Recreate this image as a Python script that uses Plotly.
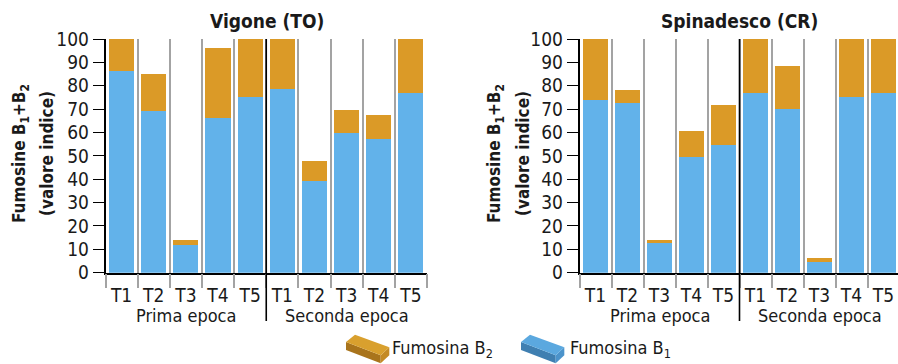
import plotly.graph_objects as go

W, H = 898, 364

# ---------------- data ----------------
categories = ["T1", "T2", "T3", "T4", "T5", "T1", "T2", "T3", "T4", "T5"]
groups = ["Prima epoca", "Seconda epoca"]

vigone_b1 = [86.3, 69.3, 11.8, 66.4, 75.2, 78.4, 39.4, 59.6, 57.3, 77.0]
vigone_b2 = [13.7, 15.8, 2.4, 29.8, 24.8, 21.6, 8.5, 10.1, 10.3, 23.0]

spinadesco_b1 = [74.1, 72.7, 12.7, 49.6, 54.8, 77.0, 70.1, 4.4, 75.0, 76.7]
spinadesco_b2 = [25.9, 5.5, 1.5, 11.1, 17.0, 23.0, 18.4, 1.7, 25.0, 23.3]

titles = ["Vigone (TO)", "Spinadesco (CR)"]
y_title_lines = ["Fumosine B<sub>1</sub>+B<sub>2</sub>", "(valore indice)"]
legend_labels = ["Fumosina B<sub>2</sub>", "Fumosina B<sub>1</sub>"]
y_ticks = [0, 10, 20, 30, 40, 50, 60, 70, 80, 90, 100]

# ---------------- style ----------------
FONT = "DejaVu Sans Condensed, Liberation Sans Narrow, Arial Narrow, sans-serif"
BLUE = "#62B2EA"
ORANGE = "#DB9A27"
TXT = "#1a1a1a"
GRID = "#a3a3a3"

def px(x):
    return x / W

def py(y):
    return 1 - y / H

YDOM = [py(272.7), py(39)]
XDOMS = [[px(105.5), px(427)], [px(579.5), px(898)]]
XRANGES = [[-0.5, 9.5], [-0.5, -0.5 + (898 - 579.5) / 32.0]]

fig = go.Figure()
xs = list(range(len(categories)))

panels = [(vigone_b1, vigone_b2), (spinadesco_b1, spinadesco_b2)]
for i, (b1, b2) in enumerate(panels):
    xa = "x" if i == 0 else "x2"
    ya = "y" if i == 0 else "y2"
    fig.add_trace(go.Bar(x=xs, y=b1, marker=dict(color=BLUE, line=dict(width=0)),
                         name="Fumosina B1", xaxis=xa, yaxis=ya, showlegend=False))
    fig.add_trace(go.Bar(x=xs, y=b2, marker=dict(color=ORANGE, line=dict(width=0)),
                         name="Fumosina B2", xaxis=xa, yaxis=ya, showlegend=False))

axis_common_x = dict(
    tickmode="array", tickvals=xs, ticktext=categories,
    ticks="", showgrid=False, zeroline=False, automargin=False,
    showline=True, linecolor="black", linewidth=1.5,
    tickfont=dict(family=FONT, size=19, color=TXT),
    ticklabelstandoff=5,
    minor=dict(tickmode="array", tickvals=[k - 0.5 for k in range(11)],
               ticks="outside", ticklen=14, tickcolor=GRID, tickwidth=1.5,
               showgrid=True, gridcolor=GRID, gridwidth=1.5),
)
axis_common_y = dict(
    range=[0, 100], tickmode="array", tickvals=y_ticks, automargin=False,
    ticks="outside", ticklen=11, tickcolor="black", tickwidth=1.2,
    showline=True, linecolor="black", linewidth=1.5,
    showgrid=False, zeroline=False,
    tickfont=dict(family=FONT, size=19, color=TXT),
)

fig.update_layout(
    width=W, height=H,
    margin=dict(l=0, r=0, t=0, b=0),
    paper_bgcolor="white", plot_bgcolor="white",
    barmode="stack", bargap=0.22,
    showlegend=False,
    xaxis=dict(domain=XDOMS[0], range=XRANGES[0], anchor="y", **axis_common_x),
    yaxis=dict(domain=YDOM, anchor="x", **axis_common_y),
    xaxis2=dict(domain=XDOMS[1], range=XRANGES[1], anchor="y2", **axis_common_x),
    yaxis2=dict(domain=YDOM, anchor="x2", **axis_common_y),
)

annotations = []
shapes = []
title_x = [266.5, 739]
ytitle_x = [(20, 47), (495, 523)]
for i in range(2):
    xr = "x" if i == 0 else "x2"
    annotations.append(dict(text="<b>%s</b>" % titles[i], x=px(title_x[i]), y=py(21),
                            xref="paper", yref="paper", showarrow=False,
                            xanchor="center", yanchor="middle",
                            font=dict(family=FONT, size=19, color=TXT)))
    for line, lx in zip(y_title_lines, ytitle_x[i]):
        annotations.append(dict(text="<b>%s</b>" % line, x=px(lx), y=py(154),
                                xref="paper", yref="paper", showarrow=False, textangle=-90,
                                xanchor="center", yanchor="middle", align="center",
                                font=dict(family=FONT, size=17, color=TXT)))
    for g, gname in enumerate(groups):
        annotations.append(dict(text=gname, x=2 + 5 * g, y=py(315), xref=xr, yref="paper",
                                showarrow=False, xanchor="center", yanchor="middle",
                                font=dict(family=FONT, size=18, color=TXT)))
    # black divider between the two epochs
    shapes.append(dict(type="line", xref=xr, yref="paper", x0=4.5, x1=4.5,
                       y0=py(321), y1=YDOM[1], line=dict(color="black", width=1.6)))

# legend: 3D box icons + labels
def box(x0, top, front, end):
    A = (x0 + 6, 342); B = (x0 + 15, 334.7); C = (x0 + 49.3, 347.3); D = (x0 + 40.7, 355.3)
    d = 8
    def path(pts):
        return "M " + " L ".join("%f,%f" % (px(a), py(b)) for a, b in pts) + " Z"
    out = []
    out.append(dict(type="path", xref="paper", yref="paper",
                    path=path([A, D, (D[0], D[1] + d), (A[0], A[1] + d)]),
                    fillcolor=front, line=dict(width=0)))
    out.append(dict(type="path", xref="paper", yref="paper",
                    path=path([D, C, (C[0], C[1] + d), (D[0], D[1] + d)]),
                    fillcolor=end, line=dict(width=0)))
    out.append(dict(type="path", xref="paper", yref="paper",
                    path=path([A, B, C, D]), fillcolor=top, line=dict(width=0)))
    return out

shapes += box(340, "#D9A02E", "#A9741C", "#C48A24")
shapes += box(515, "#5BA8DF", "#3F7FB1", "#4B93CB")
annotations.append(dict(text=legend_labels[0], x=px(390), y=py(349), xref="paper", yref="paper",
                        showarrow=False, xanchor="left", yanchor="middle",
                        font=dict(family=FONT, size=18, color=TXT)))
annotations.append(dict(text=legend_labels[1], x=px(568), y=py(349), xref="paper", yref="paper",
                        showarrow=False, xanchor="left", yanchor="middle",
                        font=dict(family=FONT, size=18, color=TXT)))

fig.update_layout(annotations=annotations, shapes=shapes)
fig.write_html("out.html", config={"displayModeBar": False},
               post_script="document.body.style.margin='0';document.body.style.padding='0';")
